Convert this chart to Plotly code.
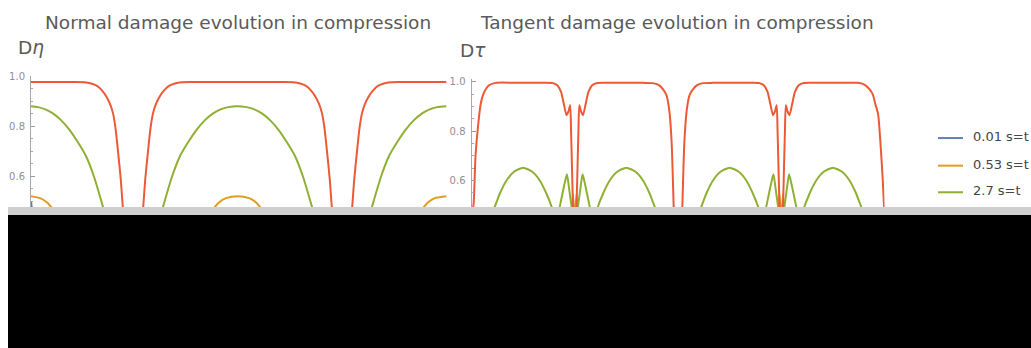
import plotly.graph_objects as go

# ---------------- data (angle in degrees, damage value) ----------------
# Normal damage, red series
theta_n_red = [2.15, 20, 40, 48, 54, 59, 63, 67, 70.2, 72.8, 75, 77.3, 79.5, 81.4, 84, 87,
               90, 93, 96, 98.6, 100.5, 102.7, 105, 107.2, 109.8, 113, 117, 121, 126, 132, 140, 160,
               180, 200, 220, 228, 234, 239, 243, 247, 250.2, 252.8, 255, 257.3, 259.5, 261.4, 264, 267,
               270, 273, 276, 278.6, 280.5, 282.7, 285, 287.2, 289.8, 293, 297, 301, 306, 312, 320, 340,
               360]
d_n_red = [0.978, 0.978, 0.978, 0.977, 0.972, 0.962, 0.945, 0.92, 0.89, 0.852, 0.79, 0.69, 0.585, 0.468, 0.37, 0.28,
           0.25, 0.28, 0.37, 0.468, 0.585, 0.69, 0.79, 0.852, 0.89, 0.92, 0.945, 0.962, 0.972, 0.977, 0.978, 0.978,
           0.978, 0.978, 0.978, 0.977, 0.972, 0.962, 0.945, 0.92, 0.89, 0.852, 0.79, 0.69, 0.585, 0.468, 0.37, 0.28,
           0.25, 0.28, 0.37, 0.468, 0.585, 0.69, 0.79, 0.852, 0.89, 0.92, 0.945, 0.962, 0.972, 0.977, 0.978, 0.978,
           0.978]

# Normal damage, green series (2.7 s=t)
theta_n_green = [2.15, 8, 15, 21, 28, 35.3, 42, 49.5, 56.8, 64.6, 72, 80, 90, 100, 108,
                 115.4, 123.2, 130.5, 138, 144.7, 152, 159, 165, 172, 180, 188, 195, 201, 208, 215.3,
                 222, 229.5, 236.8, 244.6, 252, 260, 270, 280, 288, 295.4, 303.2, 310.5, 318, 324.7, 332,
                 339, 345, 352, 360]
d_n_green = [0.881, 0.877, 0.867, 0.852, 0.825, 0.786, 0.74, 0.681, 0.593, 0.47, 0.35, 0.25, 0.2, 0.25, 0.35,
             0.47, 0.593, 0.681, 0.74, 0.786, 0.825, 0.852, 0.867, 0.877, 0.881, 0.877, 0.867, 0.852, 0.825, 0.786,
             0.74, 0.681, 0.593, 0.47, 0.35, 0.25, 0.2, 0.25, 0.35, 0.47, 0.593, 0.681, 0.74, 0.786, 0.825,
             0.852, 0.867, 0.877, 0.881]

# Normal damage, orange series (0.53 s=t)
theta_n_orange = [2.15, 10, 16, 21, 28, 40, 60, 90, 120, 140, 152, 159, 164, 170, 180,
                  190, 196, 201, 208, 220, 240, 270, 300, 320, 332, 339, 344, 350, 360]
d_n_orange = [0.52, 0.512, 0.495, 0.468, 0.42, 0.33, 0.2, 0.1, 0.2, 0.33, 0.42, 0.468, 0.495, 0.512, 0.52,
              0.512, 0.495, 0.468, 0.42, 0.33, 0.2, 0.1, 0.2, 0.33, 0.42, 0.468, 0.495, 0.512, 0.52]

# Normal damage, blue series (0.01 s=t)
theta_n_blue = [2.15, 3.5, 6, 15, 90, 180, 270, 360]
d_n_blue = [0.5, 0.45, 0.38, 0.25, 0.05, 0.2, 0.05, 0.2]

# Tangent damage, red series
theta_t_red = [0, 1.75, 3.5, 5.9, 8, 10.3, 15, 21, 40, 60,
               71, 75, 78, 80.5, 82.8, 84.5, 86, 86.8, 87.6, 88.5, 89.2, 90, 90.8, 91.5, 92.4, 93.2, 94, 95.5,
               97.2, 99.5, 102, 105, 109, 120, 150,
               158, 163, 167, 170, 172.5, 174.5, 176.3, 178, 180, 182, 183.7, 185.5, 187.5, 190, 193, 197, 202, 210, 240,
               251, 255, 258, 260.5, 262.8, 264.5, 266, 266.8, 267.6, 268.5, 269.2, 270, 270.8, 271.5, 272.4, 273.2,
               274, 275.5, 277.2, 279.5, 282, 285, 289, 300, 330,
               337, 342, 346, 349.7, 352, 354.4, 356.5, 358.5, 359.7, 360]
d_t_red = [0.46, 0.5, 0.7, 0.83, 0.91, 0.95, 0.985, 0.996, 0.996, 0.996,
           0.995, 0.985, 0.96, 0.91, 0.865, 0.88, 0.905, 0.8, 0.65, 0.484, 0.35, 0.3, 0.35, 0.484, 0.65, 0.8, 0.905, 0.88,
           0.865, 0.91, 0.96, 0.985, 0.995, 0.996, 0.996,
           0.995, 0.988, 0.97, 0.945, 0.88, 0.75, 0.484, 0.3, 0.2, 0.3, 0.484, 0.75, 0.88, 0.945, 0.97, 0.988, 0.995, 0.996, 0.996,
           0.995, 0.985, 0.96, 0.91, 0.865, 0.88, 0.905, 0.8, 0.65, 0.484, 0.35, 0.3, 0.35, 0.484, 0.65, 0.8,
           0.905, 0.88, 0.865, 0.91, 0.96, 0.985, 0.995, 0.996, 0.996,
           0.996, 0.99, 0.975, 0.95, 0.91, 0.87, 0.75, 0.6, 0.484, 0.46]

# Tangent damage, green series
theta_t_green = [0, 10, 19.5, 25, 30.5, 37, 45, 53, 59.5, 65, 70.5, 73.5, 76.5, 79, 81.5, 83.2, 85, 87.5,
                 90, 92.5, 95, 96.8, 98.5, 101, 103.5, 106.5, 109.5, 115, 120.5, 127, 135, 143, 149.5, 155,
                 160.5, 170, 180, 190, 199.5, 205, 210.5, 217, 225, 233, 239.5, 245, 250.5, 253.5, 256.5, 259,
                 261.5, 263.2, 265, 267.5, 270, 272.5, 275, 276.8, 278.5, 281, 283.5, 286.5, 289.5, 295, 300.5,
                 307, 315, 323, 329.5, 335, 340.5, 350, 360]
d_t_green = [0.3, 0.4, 0.484, 0.55, 0.6, 0.635, 0.652, 0.635, 0.6, 0.55, 0.484, 0.43, 0.484, 0.54, 0.595, 0.625, 0.57, 0.484,
             0.4, 0.484, 0.57, 0.625, 0.595, 0.54, 0.484, 0.43, 0.484, 0.55, 0.6, 0.635, 0.652, 0.635, 0.6, 0.55,
             0.484, 0.4, 0.3, 0.4, 0.484, 0.55, 0.6, 0.635, 0.652, 0.635, 0.6, 0.55, 0.484, 0.43, 0.484, 0.54,
             0.595, 0.625, 0.57, 0.484, 0.4, 0.484, 0.57, 0.625, 0.595, 0.54, 0.484, 0.43, 0.484, 0.55, 0.6,
             0.635, 0.652, 0.635, 0.6, 0.55, 0.484, 0.4, 0.3]

# Tangent damage, orange series
theta_t_orange = [0, 60, 84, 87.6, 88.5, 89.3, 90, 90.7, 91.5, 92.4, 96, 120, 180, 240,
                  264, 267.6, 268.5, 269.3, 270, 270.7, 271.5, 272.4, 276, 300, 360]
d_t_orange = [0.2, 0.1, 0.3, 0.484, 0.545, 0.484, 0.42, 0.484, 0.545, 0.484, 0.3, 0.1, 0.15, 0.1,
              0.3, 0.484, 0.545, 0.484, 0.42, 0.484, 0.545, 0.484, 0.3, 0.1, 0.2]

# Tangent damage, blue series
theta_t_blue = [0, 90, 180, 270, 360]
d_t_blue = [0.1, 0.05, 0.1, 0.05, 0.1]

legend_labels = ["0.01 s=t", "0.53 s=t", "2.7 s=t"]
y_ticks = [0.6, 0.8, 1.0]
y_tick_text = ["0.6", "0.8", "1.0"]

# ---------------- styling ----------------
BLUE, ORANGE, GREEN, RED = "#5E81B5", "#E19C24", "#8FB032", "#EB5A35"
FONT = "DejaVu Sans, Liberation Sans, sans-serif"
W, H = 1031, 348


def fx(px):
    return px / W


def fy(px):
    return 1 - px / H


fig = go.Figure()


def add_line(x, y, color, axes):
    fig.add_trace(go.Scatter(
        x=x, y=y, mode="lines", xaxis=axes[0], yaxis=axes[1],
        line=dict(color=color, width=2, shape="spline", smoothing=0.6),
        showlegend=False, hoverinfo="skip"))


add_line(theta_n_blue, d_n_blue, BLUE, ("x", "y"))
add_line(theta_n_orange, d_n_orange, ORANGE, ("x", "y"))
add_line(theta_n_green, d_n_green, GREEN, ("x", "y"))
add_line(theta_n_red, d_n_red, RED, ("x", "y"))
add_line(theta_t_blue, d_t_blue, BLUE, ("x2", "y2"))
add_line(theta_t_orange, d_t_orange, ORANGE, ("x2", "y2"))
add_line(theta_t_green, d_t_green, GREEN, ("x2", "y2"))
add_line(theta_t_red, d_t_red, RED, ("x2", "y2"))

yaxis_style = dict(
    tickmode="array", tickvals=y_ticks, ticktext=y_tick_text,
    ticks="inside", ticklen=4, tickwidth=1, tickcolor="#9a9a9a",
    showline=True, linecolor="#a8a8a8", linewidth=1,
    showgrid=False, zeroline=False,
    tickfont=dict(family=FONT, size=10, color="#8f8f8f"),
    ticklabelstandoff=3,
    minor=dict(ticks="inside", ticklen=2, tickcolor="#a8a8a8", dtick=0.05, tick0=0, showgrid=False),
)

fig.update_layout(
    width=W, height=H, autosize=False,
    margin=dict(l=0, r=0, t=0, b=0),
    paper_bgcolor="white", plot_bgcolor="white",
    xaxis=dict(domain=[fx(31), fx(446.5)], range=[2.15, 360], visible=False),
    yaxis=dict(domain=[fy(214.2), fy(72.0)], range=[0.44, 1.002], anchor="x", **yaxis_style),
    xaxis2=dict(domain=[fx(471.5), fx(884.5)], range=[0, 360], visible=False, anchor="y2"),
    yaxis2=dict(domain=[fy(218), fy(75)], range=[0.44, 1.012], anchor="x2", **yaxis_style),
)

TITLE_FONT = dict(family=FONT, size=18.5, color="#5a5a5a")
annotations = [
    dict(text="Normal damage evolution in compression", x=fx(237.5), y=fy(17.5), font=TITLE_FONT),
    dict(text="Tangent damage evolution in compression", x=fx(676.5), y=fy(17.5), font=TITLE_FONT),
    dict(text="D<i>η</i>", x=fx(16), y=fy(43.5), xanchor="left", font=TITLE_FONT),
    dict(text="D<i>τ</i>", x=fx(458), y=fy(46.5), xanchor="left", font=TITLE_FONT),
]

shapes = []
legend_colors = [BLUE, ORANGE, GREEN]
legend_rows = [135, 163, 190]
for label, color, row in zip(legend_labels, legend_colors, legend_rows):
    shapes.append(dict(type="line", xref="paper", yref="paper",
                       x0=fx(938), x1=fx(963), y0=fy(row), y1=fy(row),
                       line=dict(color=color, width=2)))
    annotations.append(dict(text=label, x=fx(971), y=fy(row - 1.5), xanchor="left",
                            font=dict(family=FONT, size=13, color="#444444")))

for a in annotations:
    a.setdefault("xref", "paper")
    a.setdefault("yref", "paper")
    a.setdefault("showarrow", False)
    a.setdefault("yanchor", "middle")
    a.setdefault("xanchor", "center")

# panel covering the lower part of the figure
shapes.append(dict(type="rect", xref="paper", yref="paper", layer="above",
                   x0=fx(8), x1=1, y0=fy(213), y1=fy(205),
                   fillcolor="#cfcfcf", line=dict(width=0)))
shapes.append(dict(type="rect", xref="paper", yref="paper", layer="above",
                   x0=fx(8), x1=1, y0=0, y1=fy(213),
                   fillcolor="#000000", line=dict(width=0)))

fig.update_layout(annotations=annotations, shapes=shapes)
fig.write_html("out.html")
